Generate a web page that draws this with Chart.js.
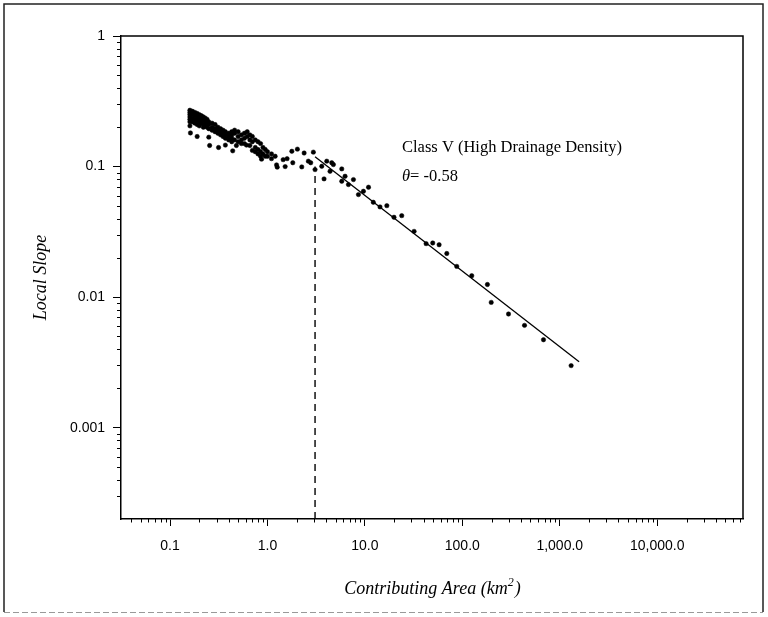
<!DOCTYPE html>
<html>
<head>
<meta charset="utf-8">
<script src="https://cdn.jsdelivr.net/npm/chart.js@4/dist/chart.umd.min.js"></script>
<style>
  html, body { margin: 0; padding: 0; background: #fff; }
  #wrap { width: 768px; height: 617px; position: relative; }
</style>
</head>
<body>
<div id="wrap"><canvas id="c"></canvas></div>
<script>
// observed local slope vs contributing area
const observed = [
  [0.16,0.27],[0.16,0.26],[0.16,0.25],[0.16,0.24],[0.16,0.23],[0.16,0.22],[0.16,0.205],
  [0.17,0.265],[0.17,0.25],[0.17,0.235],[0.17,0.22],
  [0.18,0.26],[0.18,0.245],[0.18,0.23],[0.18,0.215],
  [0.19,0.255],[0.19,0.24],[0.19,0.225],[0.19,0.21],
  [0.20,0.25],[0.20,0.235],[0.20,0.22],[0.20,0.205],
  [0.21,0.245],[0.21,0.23],[0.21,0.215],
  [0.22,0.24],[0.22,0.225],[0.22,0.21],[0.22,0.20],
  [0.23,0.235],[0.23,0.22],[0.23,0.205],
  [0.24,0.23],[0.24,0.215],[0.24,0.20],
  [0.25,0.22],[0.25,0.21],[0.25,0.195],
  [0.27,0.215],[0.27,0.20],[0.27,0.19],
  [0.29,0.21],[0.29,0.195],[0.29,0.185],
  [0.31,0.20],[0.31,0.19],[0.31,0.18],
  [0.33,0.195],[0.33,0.185],[0.33,0.175],
  [0.35,0.19],[0.35,0.18],[0.35,0.17],
  [0.37,0.185],[0.37,0.175],[0.37,0.165],
  [0.40,0.18],[0.40,0.17],[0.40,0.16],
  [0.43,0.185],[0.43,0.175],[0.43,0.165],[0.43,0.155],
  [0.46,0.19],[0.46,0.18],[0.46,0.16],
  [0.50,0.185],[0.50,0.17],[0.50,0.155],
  [0.54,0.175],[0.54,0.16],[0.54,0.15],
  [0.58,0.18],[0.58,0.165],[0.58,0.15],
  [0.62,0.185],[0.62,0.17],
  [0.66,0.175],[0.66,0.16],[0.66,0.145],
  [0.70,0.17],[0.70,0.155],
  [0.75,0.16],[0.75,0.14],[0.75,0.13],
  [0.80,0.155],[0.80,0.135],[0.80,0.125],
  [0.85,0.15],[0.85,0.13],[0.85,0.12],
  [0.90,0.14],[0.90,0.125],
  [0.95,0.135],[0.95,0.12],
  [1.0,0.13],[1.0,0.12],
  [1.1,0.125],[1.1,0.115],
  [1.2,0.12],
  // scattered points below the main band
  [0.162,0.181],[0.19,0.17],[0.25,0.168],[0.255,0.145],[0.315,0.14],[0.37,0.146],
  [0.44,0.132],[0.48,0.145],[0.61,0.146],[0.70,0.133],[0.87,0.114],[1.24,0.103],
  [1.26,0.099],[1.45,0.113],[1.52,0.100],[1.59,0.115],
  [1.78,0.131],[1.82,0.107],[2.03,0.136],[2.25,0.0994],[2.38,0.127],[2.63,0.110],
  [2.78,0.107],[2.96,0.129],[3.08,0.0948],[3.61,0.1005],[3.81,0.0805],[4.06,0.110],
  [4.39,0.092],[4.57,0.107],[4.75,0.1036],[5.79,0.096],[5.79,0.0772],[6.26,0.0843],
  [6.78,0.0728],
  // tail
  [7.63,0.0795],[8.59,0.061],[9.66,0.0647],[10.9,0.0695],[12.2,0.0533],[14.3,0.0491],
  [16.8,0.0502],[19.9,0.0409],[23.9,0.0421],[32.0,0.0319],[42.5,0.0257],[49.7,0.026],
  [57.8,0.0252],[69.3,0.0216],[87.7,0.0172],[125,0.0146],[181,0.0125],[198,0.00912],
  [298,0.00743],[435,0.00608],[681,0.00472],[1309,0.00299]
];

// fitted power law (theta = -0.58), end points
const fitArea = [3.08, 1580];
const fitSlope = [0.119, 0.0032];

// break in slope (dashed vertical)
const breakArea = [3.08, 3.08];
const breakSlope = [0.0002, 0.1];

const xTicks = [0.1, 1, 10, 100, 1000, 10000];
const xTickLabels = ['0.1', '1.0', '10.0', '100.0', '1,000.0', '10,000.0'];
const yTicks = [0.001, 0.01, 0.1, 1];
const yTickLabels = ['0.001', '0.01', '0.1', '1'];

const tickFont = { family: "'Liberation Sans', Arial, sans-serif", size: 14 };
const serif = "'Liberation Serif', 'Times New Roman', serif";

const extras = {
  id: 'extras',
  afterDraw(chart) {
    const ctx = chart.ctx;
    const a = chart.chartArea;
    const xs = chart.scales.x, ys = chart.scales.y;
    ctx.save();
    ctx.strokeStyle = '#000';

    // top and right sides of the plot box
    ctx.lineWidth = 1.5;
    ctx.beginPath();
    ctx.moveTo(a.left, a.top); ctx.lineTo(a.right, a.top); ctx.lineTo(a.right, a.bottom);
    ctx.stroke();

    // minor ticks
    ctx.lineWidth = 1;
    ctx.beginPath();
    for (let d = 0.01; d < 1e6; d *= 10) {
      for (let k = 2; k <= 9; k++) {
        const v = k * d;
        if (v > xs.min && v < xs.max) {
          const px = Math.round(xs.getPixelForValue(v)) + 0.5;
          ctx.moveTo(px, a.bottom); ctx.lineTo(px, a.bottom + 3.5);
        }
      }
    }
    for (let d = 1e-5; d < 10; d *= 10) {
      for (let k = 2; k <= 9; k++) {
        const v = k * d;
        if (v > ys.min && v < ys.max) {
          const py = Math.round(ys.getPixelForValue(v)) + 0.5;
          ctx.moveTo(a.left, py); ctx.lineTo(a.left - 4, py);
        }
      }
    }
    ctx.stroke();

    // annotation
    ctx.fillStyle = '#000';
    ctx.textBaseline = 'alphabetic';
    ctx.textAlign = 'left';
    ctx.font = '16.5px ' + serif;
    ctx.fillText('Class V (High Drainage Density)', 402, 152);
    ctx.font = 'italic 16.5px ' + serif;
    ctx.fillText('\u03B8', 402, 181);
    const tw = ctx.measureText('\u03B8').width;
    ctx.font = '16.5px ' + serif;
    ctx.fillText('= -0.58', 402 + tw, 181);

    // x axis title with superscript
    const cx = (a.left + a.right) / 2;
    ctx.font = 'italic 18px ' + serif;
    const p1 = 'Contributing Area (km';
    const w1 = ctx.measureText(p1).width;
    ctx.font = 'italic 12px ' + serif;
    const w2 = ctx.measureText('2').width;
    ctx.font = 'italic 18px ' + serif;
    const w3 = ctx.measureText(')').width;
    let sx = cx - (w1 + w2 + w3) / 2;
    const by = 594;
    ctx.fillText(p1, sx, by);
    ctx.font = 'italic 12px ' + serif;
    ctx.fillText('2', sx + w1, by - 8);
    ctx.font = 'italic 18px ' + serif;
    ctx.fillText(')', sx + w1 + w2 + 1, by);

    // y axis title
    ctx.save();
    ctx.translate(46, (a.top + a.bottom) / 2);
    ctx.rotate(-Math.PI / 2);
    ctx.textAlign = 'center';
    ctx.font = 'italic 18px ' + serif;
    ctx.fillText('Local Slope', 0, 0);
    ctx.restore();

    // outer frame
    ctx.lineWidth = 1.5;
    ctx.strokeStyle = '#222';
    ctx.beginPath();
    ctx.moveTo(4, 612); ctx.lineTo(4, 4); ctx.lineTo(763, 4); ctx.lineTo(763, 612);
    ctx.stroke();
    ctx.strokeStyle = '#999';
    ctx.lineWidth = 1;
    ctx.setLineDash([6, 3]);
    ctx.beginPath();
    ctx.moveTo(4, 612.5); ctx.lineTo(763, 612.5);
    ctx.stroke();
    ctx.restore();
  }
};

new Chart(document.getElementById('c'), {
  type: 'scatter',
  data: {
    datasets: [{
      label: 'Observed',
      data: observed.map(p => ({ x: p[0], y: p[1] })),
      backgroundColor: '#000',
      borderColor: '#000',
      pointRadius: 2.2,
      pointBorderWidth: 0.5
    }, {
      label: 'Fit',
      type: 'line',
      data: fitArea.map((x, i) => ({ x: x, y: fitSlope[i] })),
      borderColor: '#000',
      borderWidth: 1.3,
      pointRadius: 0,
      fill: false
    }, {
      label: 'Break',
      type: 'line',
      data: breakArea.map((x, i) => ({ x: x, y: breakSlope[i] })),
      borderColor: '#000',
      borderWidth: 1.4,
      borderDash: [7, 5],
      pointRadius: 0,
      fill: false
    }]
  },
  options: {
    responsive: true,
    maintainAspectRatio: false,
    animation: false,
    layout: { padding: { top: 36, right: 25, left: 0, bottom: 0 } },
    plugins: { legend: { display: false }, tooltip: { enabled: false } },
    scales: {
      x: {
        type: 'logarithmic',
        position: 'bottom',
        min: 0.0314,
        max: 76000,
        afterFit: s => { s.height = 98; },
        afterBuildTicks: s => { s.ticks = xTicks.map(v => ({ value: v })); },
        ticks: {
          autoSkip: false,
          maxRotation: 0,
          padding: 12,
          color: '#000',
          font: tickFont,
          callback: (v, i) => xTickLabels[i]
        },
        grid: { drawOnChartArea: false, color: '#000', tickLength: 7, lineWidth: 1 },
        border: { color: '#000', width: 1.5 }
      },
      y: {
        type: 'logarithmic',
        position: 'left',
        min: 0.0002,
        max: 1,
        afterFit: s => { s.width = 121; },
        afterBuildTicks: s => { s.ticks = yTicks.map(v => ({ value: v })); },
        ticks: {
          autoSkip: false,
          padding: 8,
          color: '#000',
          font: tickFont,
          callback: (v, i) => yTickLabels[i]
        },
        grid: { drawOnChartArea: false, color: '#000', tickLength: 8, lineWidth: 1 },
        border: { color: '#000', width: 1.5 }
      }
    }
  },
  plugins: [extras]
});
</script>
</body>
</html>
